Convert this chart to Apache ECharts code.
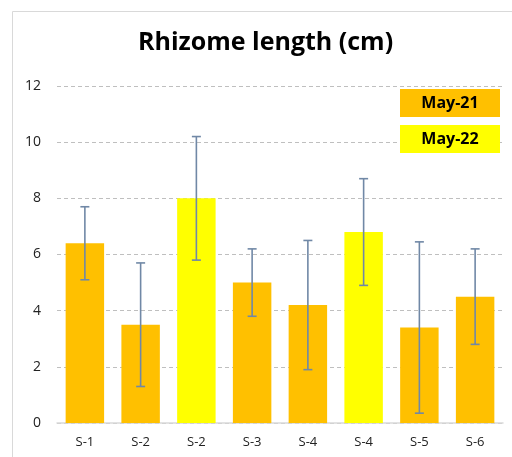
<!DOCTYPE html>
<html>
<head>
<meta charset="utf-8">
<script src="https://cdn.jsdelivr.net/npm/echarts@6/dist/echarts.min.js"></script>
<style>
html,body{margin:0;padding:0;background:#fff;}
#main{width:512px;height:457px;}
</style>
</head>
<body>
<div id="main"></div>
<script>
// data
var categories = ['S-1','S-2','S-2','S-3','S-4','S-4','S-5','S-6'];
var seriesNames = ['May-21','May-22'];
var may21 = [6.4, 3.5, null, 5.0, 4.2, null, 3.4, 4.5];
var may22 = [null, null, 8.0, null, null, 6.8, null, null];
var errLow  = [5.1, 1.3, 5.8, 3.8, 1.9, 4.9, 0.35, 2.8];
var errHigh = [7.7, 5.7, 10.2, 6.2, 6.5, 8.7, 6.45, 6.2];
var yTicks = [0, 2, 4, 6, 8, 10, 12];

var COLOR = {
	MAY21:'#FFC000',
	MAY22:'#FFFF00',
	ERR:'#7088A6'
};

var errData = [];
for(var i = 0; i < categories.length; i++){
	errData.push([i, errLow[i], errHigh[i]]);
}

function renderErrorBar(params, api){
	var x = api.value(0);
	var lo = api.coord([x, api.value(1)]);
	var hi = api.coord([x, api.value(2)]);
	var half = 4.5;
	var style = {stroke: COLOR.ERR, lineWidth: 1.6, fill: null};
	return {
		type: 'group',
		children: [
			{type:'line', shape:{x1:lo[0], y1:lo[1], x2:hi[0], y2:hi[1]}, style:style},
			{type:'line', shape:{x1:lo[0]-half, y1:lo[1], x2:lo[0]+half, y2:lo[1]}, style:style},
			{type:'line', shape:{x1:hi[0]-half, y1:hi[1], x2:hi[0]+half, y2:hi[1]}, style:style}
		]
	};
}

// legend drawn as coloured boxes with the name on top, above the grid lines
function legendBox(name, color, top){
	return {
		type:'group', left:400, top:top, z:100,
		children:[
			{type:'rect', z:100, shape:{x:0, y:0, width:100, height:28}, style:{fill:color}},
			{type:'text', z:101, x:50, y:14, style:{text:name, fill:'#000', font:'bold 16px "Open Sans", sans-serif', align:'center', verticalAlign:'middle'}}
		]
	};
}

var myChart = echarts.init(document.getElementById('main'));
myChart.setOption({
	animation:false,
	title:{
		text:'Rhizome length (cm)',
		left:133,
		top:25,
		textStyle:{color:'#000', fontSize:25, fontWeight:'bold', fontFamily:'"Open Sans", sans-serif'}
	},
	grid:{left:57, right:9, top:86, bottom:34},
	xAxis:{
		type:'category',
		data:categories,
		axisTick:{show:false},
		axisLine:{lineStyle:{color:'#D9D9D9', width:1.5}},
		axisLabel:{color:'#222', fontSize:13, margin:13, fontFamily:'"Open Sans", sans-serif'}
	},
	yAxis:{
		type:'value',
		min:yTicks[0],
		max:yTicks[yTicks.length-1],
		interval:2,
		axisLine:{show:false},
		axisTick:{show:false},
		axisLabel:{color:'#222', fontSize:14, margin:16, fontFamily:'"Open Sans", sans-serif'},
		splitLine:{lineStyle:{color:'#BFBFBF', type:[4,3], width:1}}
	},
	graphic:[
		{type:'rect', shape:{x:12.5, y:11.5, width:700, height:700}, style:{fill:null, stroke:'#D9D9D9', lineWidth:1}, z:-1},
		legendBox(seriesNames[0], COLOR.MAY21, 89),
		legendBox(seriesNames[1], COLOR.MAY22, 125)
	],
	series:[
		{
			name:seriesNames[0], type:'bar', stack:'s', data:may21,
			barCategoryGap:'31%', itemStyle:{color:COLOR.MAY21}
		},
		{
			name:seriesNames[1], type:'bar', stack:'s', data:may22,
			barCategoryGap:'31%', itemStyle:{color:COLOR.MAY22}
		},
		{
			type:'custom', renderItem:renderErrorBar, data:errData,
			encode:{x:0, y:[1,2]}, z:10
		}
	]
});
</script>
</body>
</html>
